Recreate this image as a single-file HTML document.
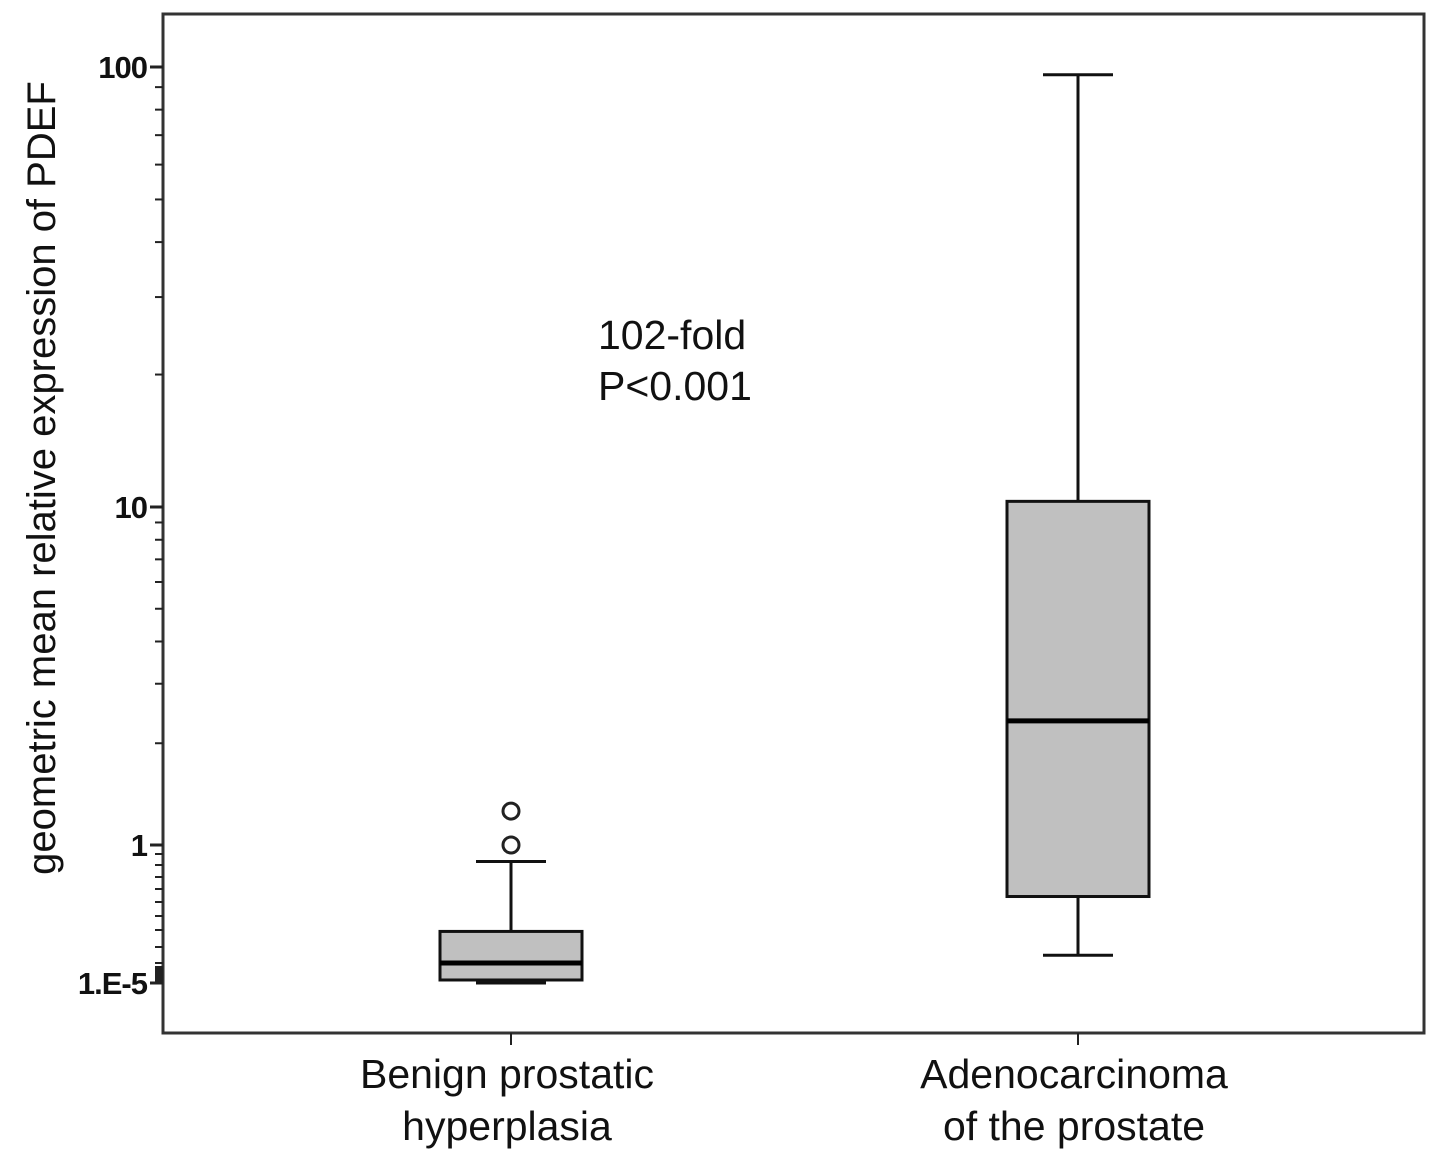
<!DOCTYPE html>
<html><head><meta charset="utf-8"><style>
body{margin:0;background:#fff;}
svg{display:block;font-family:"Liberation Sans",Arial,sans-serif;}
</style></head><body>
<svg id="chart" width="1441" height="1159">
<rect x="163" y="14" width="1261" height="1019" fill="#fff" stroke="#333" stroke-width="3"/>
<text transform="translate(55,478) rotate(-90)" text-anchor="middle" font-size="40" fill="#111">geometric mean relative expression of PDEF</text>
<text x="598" y="349" font-size="41" fill="#111">102-fold</text>
<text x="598" y="400" font-size="41" fill="#111">P&lt;0.001</text>
<g id="axes"></g><g id="boxes"></g>
</svg>
<script>
const categories=["Benign prostatic|hyperplasia","Adenocarcinoma|of the prostate"];
const whiskerLow=[0.00001,0.14];
const q1=[0.00004,0.54];
const median=[0.1,2.33];
const q3=[0.29,10.3];
const whiskerHigh=[0.83,96];
const outliers=[[1.0,1.26],[]];
const majorTicks=[100,10,1,0.00001];
const majorLabels=["100","10","1","1.E-5"];
const minorTicks=[90,80,70,60,50,40,30,20,9,8,7,6,5,4,3,2,0.9,0.8,0.7,0.6,0.5,0.4,0.3,0.2,0.1];
const anchorV=[0.00001,0.1,0.2,0.3,0.4,0.5,0.6,0.7,0.8,0.9,1,10,100];
const anchorY=[983,963,947,930,916,902,889,877,865,854,845,507,67];
function y(v){
  const l=Math.log10(v);
  for(let i=0;i<anchorV.length-1;i++){
    const a=Math.log10(anchorV[i]),b=Math.log10(anchorV[i+1]);
    if(l<=b||i===anchorV.length-2){const t=(l-a)/(b-a);return anchorY[i]+t*(anchorY[i+1]-anchorY[i]);}
  }
}
const xc=[511,1078];
function x(i){return xc[i];}
const NS="http://www.w3.org/2000/svg";
function mk(tag,attrs,parent){const e=document.createElementNS(NS,tag);for(const k in attrs)e.setAttribute(k,attrs[k]);parent.appendChild(e);return e;}
const ax=document.getElementById('axes'),bx=document.getElementById('boxes');
majorTicks.forEach((v,i)=>{
  const t=mk('line',{x1:150,x2:163,y1:y(v),y2:y(v),stroke:'#222','stroke-width':3},ax);
  
  
  const l=mk('text',{x:147,y:y(v)+11,'text-anchor':'end','font-size':31,'font-weight':'bold',fill:'#111','letter-spacing':'-1'},ax);
  l.textContent=majorLabels[i];
  
  
});
minorTicks.forEach(v=>{
  const t=mk('line',{x1:155,x2:163,y1:y(v),y2:y(v),stroke:'#222','stroke-width':2},ax);
  
  
});
const blk=mk('rect',{x:155,y:966,width:8,height:17,fill:'#222'},ax);


categories.forEach((c,i)=>{
  const cx=x(i),hw=71,cw=35;
  const t=mk('line',{x1:cx,x2:cx,y1:1033,y2:1045,stroke:'#222','stroke-width':2},ax);
  
  
  c.split('|').forEach((s,j)=>{
    const l=mk('text',{x:cx-4,y:1088+j*52,'text-anchor':'middle','font-size':41,fill:'#111'},ax);
    l.textContent=s;
    
    
  });
  const w=mk('line',{x1:cx,x2:cx,y1:y(whiskerLow[i]),y2:y(whiskerHigh[i]),stroke:'#111','stroke-width':3},bx);
  
  
  [whiskerLow[i],whiskerHigh[i]].forEach(v=>{
    const cap=mk('line',{x1:cx-cw,x2:cx+cw,y1:y(v),y2:y(v),stroke:'#111','stroke-width':3},bx);
    
    
  });
  const r=mk('rect',{x:cx-hw,y:y(q3[i]),width:hw*2,height:y(q1[i])-y(q3[i]),fill:'#c0c0c0',stroke:'#111','stroke-width':3},bx);
  
  
  const m=mk('line',{x1:cx-hw,x2:cx+hw,y1:y(median[i]),y2:y(median[i]),stroke:'#000','stroke-width':5},bx);
  
  
  outliers[i].forEach(v=>{
    const o=mk('circle',{cx:cx,cy:y(v),r:8,fill:'#fff',stroke:'#222','stroke-width':3},bx);
    
    
  });
});
</script>
</body></html>
